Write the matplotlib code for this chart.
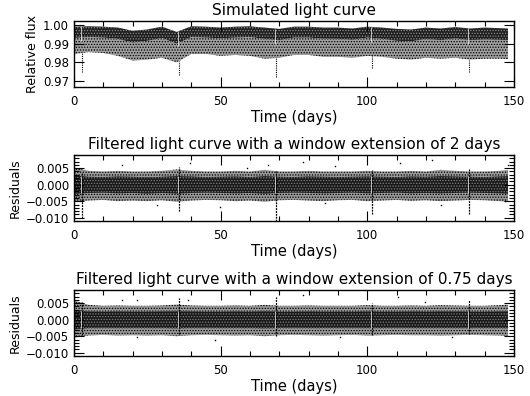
import matplotlib
matplotlib.use("Agg")
import matplotlib.pyplot as plt
import numpy as np
from matplotlib.ticker import MultipleLocator

# sample days along the light curve (read every 5 days)
days = [0, 5, 10, 15, 20, 25, 30, 35, 40, 45, 50, 55, 60, 65, 70, 75,
        80, 85, 90, 95, 100, 105, 110, 115, 120, 125, 130, 135, 140, 145, 148]

# simulated light curve: top of the dense band, bottom of the dense core,
# bottom of the sparse scatter
flux_top = [0.9990, 0.9992, 0.9990, 0.9985, 0.9968, 0.9975, 0.9990, 0.9962,
            0.9992, 0.9990, 0.9985, 0.9990, 0.9992, 0.9985, 0.9978, 0.9990,
            0.9990, 0.9985, 0.9985, 0.9980, 0.9990, 0.9985, 0.9978, 0.9975,
            0.9985, 0.9980, 0.9988, 0.9980, 0.9985, 0.9982, 0.9980]
flux_core = [0.9930, 0.9935, 0.9932, 0.9925, 0.9905, 0.9915, 0.9930, 0.9900,
             0.9935, 0.9932, 0.9928, 0.9932, 0.9935, 0.9925, 0.9918, 0.9932,
             0.9932, 0.9926, 0.9925, 0.9920, 0.9932, 0.9925, 0.9915, 0.9912,
             0.9925, 0.9918, 0.9928, 0.9918, 0.9922, 0.9920, 0.9918]
flux_low = [0.9845, 0.9855, 0.9850, 0.9835, 0.9810, 0.9815, 0.9825, 0.9800,
            0.9845, 0.9845, 0.9835, 0.9840, 0.9835, 0.9820, 0.9825, 0.9840,
            0.9840, 0.9830, 0.9830, 0.9825, 0.9835, 0.9830, 0.9820, 0.9815,
            0.9825, 0.9820, 0.9825, 0.9815, 0.9820, 0.9820, 0.9818]

# transits
transit_days = [2.7, 35.8, 68.8, 101.6, 134.7]
flux_dip = [0.9750, 0.9735, 0.9725, 0.9770, 0.9750]

# filtered residuals, 2-day window: sparse top, core top, core bottom, sparse bottom
res2_hi = [0.0052, 0.0042, 0.0040, 0.0042, 0.0040, 0.0040, 0.0042, 0.0046,
           0.0042, 0.0040, 0.0040, 0.0042, 0.0040, 0.0045, 0.0040, 0.0040,
           0.0042, 0.0040, 0.0040, 0.0040, 0.0042, 0.0040, 0.0040, 0.0042,
           0.0040, 0.0045, 0.0042, 0.0040, 0.0040, 0.0042, 0.0045]
res2_chi = [0.0028, 0.0024, 0.0023, 0.0025, 0.0024, 0.0022, 0.0024, 0.0026,
            0.0025, 0.0023, 0.0024, 0.0025, 0.0023, 0.0026, 0.0024, 0.0023,
            0.0025, 0.0024, 0.0023, 0.0024, 0.0025, 0.0024, 0.0023, 0.0025,
            0.0024, 0.0026, 0.0025, 0.0024, 0.0023, 0.0025, 0.0026]
res2_clo = [-0.0028, -0.0025, -0.0024, -0.0026, -0.0025, -0.0027, -0.0025, -0.0027,
            -0.0025, -0.0024, -0.0025, -0.0026, -0.0025, -0.0027, -0.0025, -0.0024,
            -0.0025, -0.0026, -0.0025, -0.0024, -0.0026, -0.0025, -0.0024, -0.0026,
            -0.0025, -0.0026, -0.0025, -0.0024, -0.0025, -0.0026, -0.0027]
res2_lo = [-0.0052, -0.0048, -0.0046, -0.0050, -0.0048, -0.0050, -0.0047, -0.0052,
           -0.0048, -0.0046, -0.0047, -0.0050, -0.0048, -0.0052, -0.0047, -0.0046,
           -0.0048, -0.0050, -0.0047, -0.0046, -0.0050, -0.0048, -0.0046, -0.0049,
           -0.0047, -0.0050, -0.0048, -0.0046, -0.0047, -0.0050, -0.0052]
res2_dip_lo = [-0.0100, -0.0080, -0.0110, -0.0090, -0.0088]
res2_dip_hi = [0.0035, 0.0055, 0.0040, 0.0045, 0.0048]
# scattered points outside the band
res2_out_days = [16.3, 28.2, 39.5, 49.8, 58.9, 66.2, 78.2, 85.6, 89.0, 111.0,
                 122.0, 125.3, 147.0, 148.0]
res2_out_vals = [0.0060, -0.0062, 0.0067, -0.0067, 0.0050, 0.0060, 0.0070,
                 -0.0056, 0.0057, 0.0065, 0.0075, -0.0062, -0.0050, 0.0060]

# filtered residuals, 0.75-day window
res3_hi = [0.0058, 0.0045, 0.0042, 0.0043, 0.0042, 0.0042, 0.0043, 0.0046,
           0.0043, 0.0042, 0.0042, 0.0043, 0.0042, 0.0045, 0.0042, 0.0042,
           0.0043, 0.0042, 0.0042, 0.0042, 0.0044, 0.0042, 0.0042, 0.0043,
           0.0042, 0.0044, 0.0043, 0.0042, 0.0042, 0.0044, 0.0046]
res3_chi = [0.0030, 0.0025, 0.0024, 0.0025, 0.0024, 0.0024, 0.0025, 0.0026,
            0.0025, 0.0024, 0.0024, 0.0025, 0.0024, 0.0026, 0.0024, 0.0024,
            0.0025, 0.0024, 0.0024, 0.0024, 0.0025, 0.0024, 0.0024, 0.0025,
            0.0024, 0.0025, 0.0025, 0.0024, 0.0024, 0.0025, 0.0026]
res3_clo = [-0.0030, -0.0025, -0.0024, -0.0025, -0.0025, -0.0025, -0.0025, -0.0026,
            -0.0025, -0.0024, -0.0025, -0.0025, -0.0025, -0.0026, -0.0025, -0.0024,
            -0.0025, -0.0025, -0.0025, -0.0024, -0.0025, -0.0025, -0.0024, -0.0025,
            -0.0025, -0.0025, -0.0025, -0.0024, -0.0025, -0.0025, -0.0026]
res3_lo = [-0.0055, -0.0048, -0.0046, -0.0048, -0.0047, -0.0048, -0.0047, -0.0050,
           -0.0047, -0.0046, -0.0047, -0.0048, -0.0047, -0.0050, -0.0047, -0.0046,
           -0.0047, -0.0048, -0.0047, -0.0046, -0.0048, -0.0047, -0.0046, -0.0047,
           -0.0047, -0.0048, -0.0047, -0.0046, -0.0047, -0.0048, -0.0050]
res3_dip_lo = [-0.0045, -0.0042, -0.0050, -0.0045, -0.0042]
res3_dip_hi = [0.0055, 0.0065, 0.0068, 0.0052, 0.0060]
res3_out_days = [16.3, 21.4, 21.6, 39.0, 48.2, 78.0, 90.7, 110.5, 119.7, 128.8]
res3_out_vals = [0.0060, -0.0052, 0.0060, 0.0060, -0.0062, 0.0075, -0.0052,
                 0.0070, 0.0055, -0.0052]

titles = ["Simulated light curve",
          "Filtered light curve with a window extension of 2 days",
          "Filtered light curve with a window extension of 0.75 days"]
ylabels = ["Relative flux", "Residuals", "Residuals"]
ylims = [(0.967, 1.002), (-0.011, 0.009), (-0.011, 0.009)]
yticks = [[0.97, 0.98, 0.99, 1.00],
          [-0.010, -0.005, 0.000, 0.005],
          [-0.010, -0.005, 0.000, 0.005]]
ytick_fmt = ["{:.2f}", "{:.3f}", "{:.3f}"]

plt.rcParams["font.family"] = "DejaVu Sans"
plt.rcParams["axes.linewidth"] = 1.0
plt.rcParams["hatch.linewidth"] = 0.6

fig = plt.figure(figsize=(5.30, 3.96), dpi=100)
bottoms = [0.7803, 0.4419, 0.1010]

bands = [
    (flux_top, flux_core, flux_low, None, flux_dip, None, [], []),
    (res2_hi, res2_chi, res2_clo, res2_lo, res2_dip_lo, res2_dip_hi,
     res2_out_days, res2_out_vals),
    (res3_hi, res3_chi, res3_clo, res3_lo, res3_dip_lo, res3_dip_hi,
     res3_out_days, res3_out_vals),
]


def stipple(ax, lower, upper, face, dots):
    # a filled band with a dot hatch, to look like a dense cloud of points
    ax.fill_between(days, lower, upper, facecolor=face, edgecolor=dots,
                    hatch="......", lw=0)


for i in range(3):
    ax = fig.add_axes([0.1396, bottoms[i], 0.830, 0.1667])
    hi, chi, clo, lo, dlo, dhi, odays, ovals = bands[i]
    if i == 0:
        # sparse lower scatter, then dense upper core
        stipple(ax, flux_low, flux_core, "0.62", "k")
        stipple(ax, flux_core, flux_top, "0.12", "0.55")
        for t, d, c in zip(transit_days, flux_dip, np.interp(transit_days, days, flux_low)):
            ax.vlines(t, d, c, color="k", lw=0.8, linestyles=(0, (1, 1)))
            ax.vlines(t - 0.4, np.interp(t, days, flux_core) - 0.002,
                      np.interp(t, days, flux_top), color="w", lw=0.5)
    else:
        stipple(ax, lo, hi, "0.6", "k")
        stipple(ax, clo, chi, "0.1", "0.5")
        for t, a, b in zip(transit_days, dlo, dhi):
            ax.vlines(t, a, b, color="k", lw=0.9, linestyles=(0, (1.5, 0.8)))
            ax.vlines(t - 0.4, -0.0025, 0.0025, color="w", lw=0.5)
        ax.plot(odays, ovals, ls="none", marker="s", ms=1.0, color="k", mew=0)

    ax.set_xlim(0, 150)
    ax.set_ylim(*ylims[i])
    ax.set_xticks([0, 50, 100, 150])
    ax.xaxis.set_minor_locator(MultipleLocator(10))
    ax.set_yticks(yticks[i])
    ax.set_yticklabels([ytick_fmt[i].format(v).replace("-", "\u2212") for v in yticks[i]])
    if i > 0:
        ax.yaxis.set_minor_locator(MultipleLocator(0.001))
    ax.tick_params(which="both", direction="in", top=True, right=True,
                   labelsize=8.5, width=0.8)
    ax.tick_params(which="major", length=7)
    ax.tick_params(which="minor", length=3.5)
    ax.tick_params(axis="x", pad=6)
    ax.set_title(titles[i], fontsize=11, pad=4)
    ax.set_xlabel("Time (days)", fontsize=10.5, labelpad=1)
    ax.set_ylabel(ylabels[i], fontsize=9, labelpad=3)

fig.savefig("out.png", dpi=100)
